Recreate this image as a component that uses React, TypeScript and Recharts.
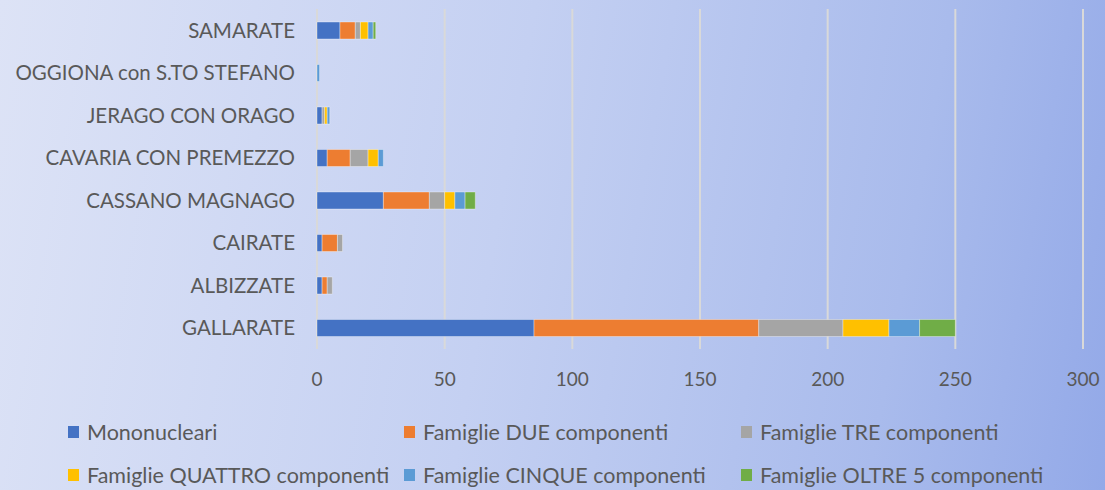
import React from 'react';
import { BarChart, Bar, XAxis, YAxis, CartesianGrid } from 'recharts';

const comuni = [
  'SAMARATE',
  'OGGIONA con S.TO STEFANO',
  'JERAGO CON ORAGO',
  'CAVARIA CON PREMEZZO',
  'CASSANO MAGNAGO',
  'CAIRATE',
  'ALBIZZATE',
  'GALLARATE',
];

const mononucleari = [9, 0, 2, 4, 26, 2, 2, 85];
const famiglieDue = [6, 0, 0, 9, 18, 6, 2, 88];
const famiglieTre = [2, 0, 1, 7, 6, 2, 2, 33];
const famiglieQuattro = [3, 0, 1, 4, 4, 0, 0, 18];
const famiglieCinque = [2, 1, 1, 2, 4, 0, 0, 12];
const famiglieOltre = [1, 0, 0, 0, 4, 0, 0, 14];

const xTicks = [0, 50, 100, 150, 200, 250, 300];

const series = [
  { key: 'mono', name: 'Mononucleari', color: '#4472C4', values: mononucleari },
  { key: 'due', name: 'Famiglie DUE componenti', color: '#ED7D31', values: famiglieDue },
  { key: 'tre', name: 'Famiglie TRE componenti', color: '#A5A5A5', values: famiglieTre },
  { key: 'quattro', name: 'Famiglie QUATTRO componenti', color: '#FFC000', values: famiglieQuattro },
  { key: 'cinque', name: 'Famiglie CINQUE componenti', color: '#5B9BD5', values: famiglieCinque },
  { key: 'oltre', name: 'Famiglie OLTRE 5 componenti', color: '#70AD47', values: famiglieOltre },
];

const data = comuni.map((name, i) => {
  const row: Record<string, string | number> = { name };
  series.forEach((s) => {
    row[s.key] = s.values[i];
  });
  return row;
});

const font = 'Lato, "Open Sans", sans-serif';
const textColor = '#595959';

const App: React.FC = () => {
  return (
    <div
      style={{
        position: 'absolute',
        left: 0,
        top: 0,
        width: 1105,
        height: 490,
        overflow: 'hidden',
        background: 'linear-gradient(100deg, #dde3f6 0%, #c4d0f2 45%, #a9bbec 80%, #93a9e8 100%)',
        fontFamily: font,
      }}
    >
      <BarChart
        width={1105}
        height={400}
        data={data}
        layout="vertical"
        barSize={17}
        margin={{ top: 9, right: 22, left: 0, bottom: 0 }}
      >
        <CartesianGrid horizontal={false} stroke="#d9d9d9" strokeWidth={2} />
        <XAxis
          type="number"
          domain={[0, 300]}
          ticks={xTicks}
          axisLine={false}
          tickLine={false}
          tickSize={0}
          tickMargin={24}
          height={51}
          tick={{ fontSize: 19, fill: textColor, fontFamily: font }}
        />
        <YAxis
          type="category"
          dataKey="name"
          width={317}
          axisLine={false}
          tickLine={false}
          tickSize={0}
          tickMargin={22}
          interval={0}
          tick={{ fontSize: 20.5, fill: textColor, fontFamily: font }}
        />
        {series.map((s) => (
          <Bar
            key={s.key}
            dataKey={s.key}
            name={s.name}
            stackId="a"
            fill={s.color}
            stroke="#ffffff"
            strokeOpacity={0.35}
            strokeWidth={1}
            isAnimationActive={false}
          />
        ))}
      </BarChart>
      <div
        style={{
          position: 'absolute',
          left: 68,
          top: 420,
          width: 1030,
          display: 'grid',
          gridTemplateColumns: '336px 337px 357px',
          rowGap: 19,
          fontSize: 21.5,
          color: textColor,
        }}
      >
        {series.map((s) => (
          <div key={s.key} style={{ display: 'flex', alignItems: 'center', height: 24, whiteSpace: 'nowrap' }}>
            <span style={{ display: 'inline-block', width: 11, height: 12, background: s.color, marginRight: 8 }} />
            <span>{s.name}</span>
          </div>
        ))}
      </div>
    </div>
  );
};

export default App;
